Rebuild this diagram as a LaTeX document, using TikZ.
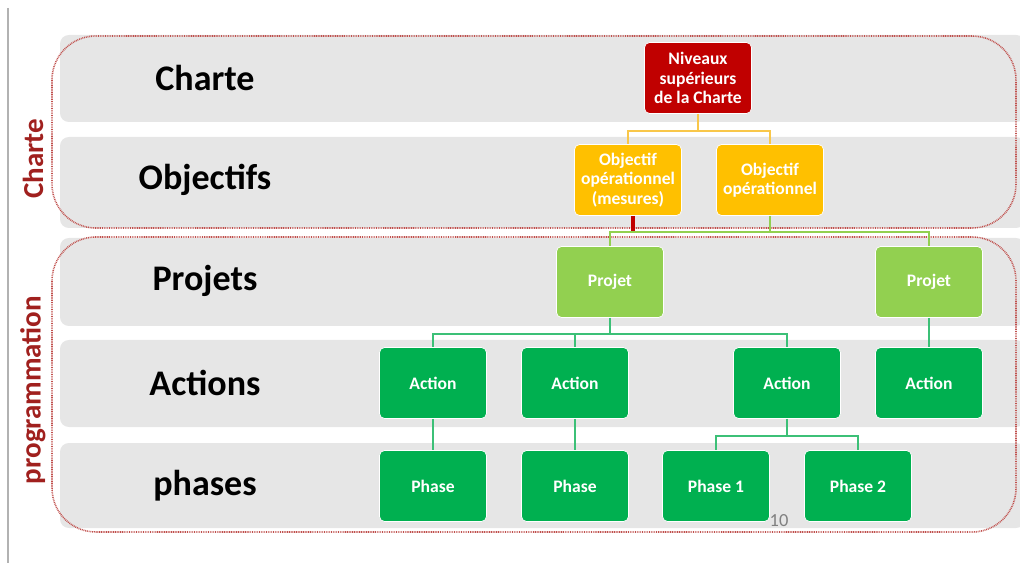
\documentclass[tikz,border=0pt]{standalone}
\usepackage{fontspec}
\setmainfont{Carlito}
\usepackage{tikz}
\usetikzlibrary{calc}
\usetikzlibrary{positioning}

\definecolor{lanegray}{HTML}{E6E6E6}
\definecolor{chartered}{HTML}{C00000}
\definecolor{sidered}{HTML}{A0201E}
\definecolor{dotred}{HTML}{C0504D}
\definecolor{amber}{HTML}{FFC000}
\definecolor{lightgreen}{HTML}{92D050}
\definecolor{darkgreen}{HTML}{00B050}
\definecolor{linegreen}{HTML}{3CC077}
\definecolor{lineamber}{HTML}{F9C74A}

\begin{document}
\begin{tikzpicture}[%
		x=0.02cm, y=-0.02cm,
		lane/.style={fill=lanegray, rounded corners=5},
		group/.style={draw=dotred, line width=0.9pt, dash pattern=on 0.5pt off 0.5pt, rounded corners=25},
		lanelabel/.style={font=\fontsize{20.5}{24}\selectfont\bfseries, text=black},
		sidelabel/.style={rotate=90, font=\fontsize{16.5}{20}\selectfont\bfseries, text=sidered},
		box/.style={rectangle, rounded corners=0.1cm, minimum width=2.14cm, minimum height=1.42cm,
			align=center, text=white, font=\fontsize{10}{11}\selectfont\bfseries, draw=white, line width=0.4pt},
		conn/.style={line width=1pt}
		]
		% 1020 x 563 px
		\useasboundingbox (0,0) rectangle (1020,563);
		\draw[gray!60, line width=0.8pt] (8,8) -- (8,563);
		
		%%%%%%%%%%%%%%%
		%    LANES    %
		%%%%%%%%%%%%%%%
		\fill[lane] (60,35) rectangle (1025,122);
		\fill[lane] (60,137) rectangle (1025,228);
		\fill[lane] (60,238) rectangle (1025,326);
		\fill[lane] (60,340) rectangle (1025,427);
		\fill[lane] (60,443) rectangle (1025,528);
		
		\draw[group] (52,36) rectangle (1016,228);
		\draw[group] (52,237) rectangle (1016,532);
		
		\node[sidelabel] (grpcharte) at (33,159) {Charte};
		\node[sidelabel] (grpprog) at (33,390) {programmation};
		
		\node[lanelabel] (lcharte) at (205,78) {Charte};
		\node[lanelabel] (lobj) at (205,180) {Objectifs};
		\node[lanelabel] (lproj) at (205,281) {Projets};
		\node[lanelabel] (lact) at (205,383) {Actions};
		\node[lanelabel] (lphase) at (205,486) {phases};
		
		%%%%%%%%%%%%%%%
		%    NODES    %
		%%%%%%%%%%%%%%%
		% Charte
		\node[box, fill=chartered] (niv) at (698,78) {Niveaux\\supérieurs\\de la Charte};
		
		% Objectifs
		\node[box, fill=amber] (obj1) at (628,180) {Objectif\\opérationnel\\(mesures)};
		\node[box, fill=amber] (obj2) at (770,180) {Objectif\\opérationnel};
		
		% Projets
		\node[box, fill=lightgreen] (proj1) at (610,282) {Projet};
		\node[box, fill=lightgreen] (proj2) at (929,282) {Projet};
		
		% Actions
		\node[box, fill=darkgreen] (act1) at (433,383) {Action};
		\node[box, fill=darkgreen] (act2) at (575,383) {Action};
		\node[box, fill=darkgreen] (act3) at (787,383) {Action};
		\node[box, fill=darkgreen] (act4) at (929,383) {Action};
		
		% phases
		\node[box, fill=darkgreen] (ph1) at (433,486) {Phase};
		\node[box, fill=darkgreen] (ph2) at (575,486) {Phase};
		\node[box, fill=darkgreen] (ph3) at (716,486) {Phase 1};
		\node[box, fill=darkgreen] (ph4) at (858,486) {Phase 2};
		
		\node[text=gray, font=\fontsize{10.5}{12}\selectfont] (pagenum) at (779,521) {10};
		
		%%%%%%%%%%%%%%%
		% CONNECTIONS %
		%%%%%%%%%%%%%%%
		\draw[conn, lineamber] (niv.south) -- ++(0,17) -| (obj1.north);
		\draw[conn, lineamber] (niv.south) -- ++(0,17) -| (obj2.north);
		
		\draw[line width=2.6pt, chartered] ($(obj1.south)+(5,0)$) -- ++(0,17);
		
		\draw[conn, lightgreen] (obj2.south) -- ++(0,16) -| (proj1.north);
		\draw[conn, lightgreen] (obj2.south) -- ++(0,16) -| (proj2.north);
		
		\draw[conn, linegreen] (proj1.south) -- ++(0,16) -| (act1.north);
		\draw[conn, linegreen] (proj1.south) -- ++(0,16) -| (act2.north);
		\draw[conn, linegreen] (proj1.south) -- ++(0,16) -| (act3.north);
		\draw[conn, linegreen] (proj2.south) -- (act4.north);
		
		\draw[conn, linegreen] (act1.south) -- (ph1.north);
		\draw[conn, linegreen] (act2.south) -- (ph2.north);
		\draw[conn, linegreen] (act3.south) -- ++(0,17) -| (ph3.north);
		\draw[conn, linegreen] (act3.south) -- ++(0,17) -| (ph4.north);
		
	\end{tikzpicture}
\end{document}
